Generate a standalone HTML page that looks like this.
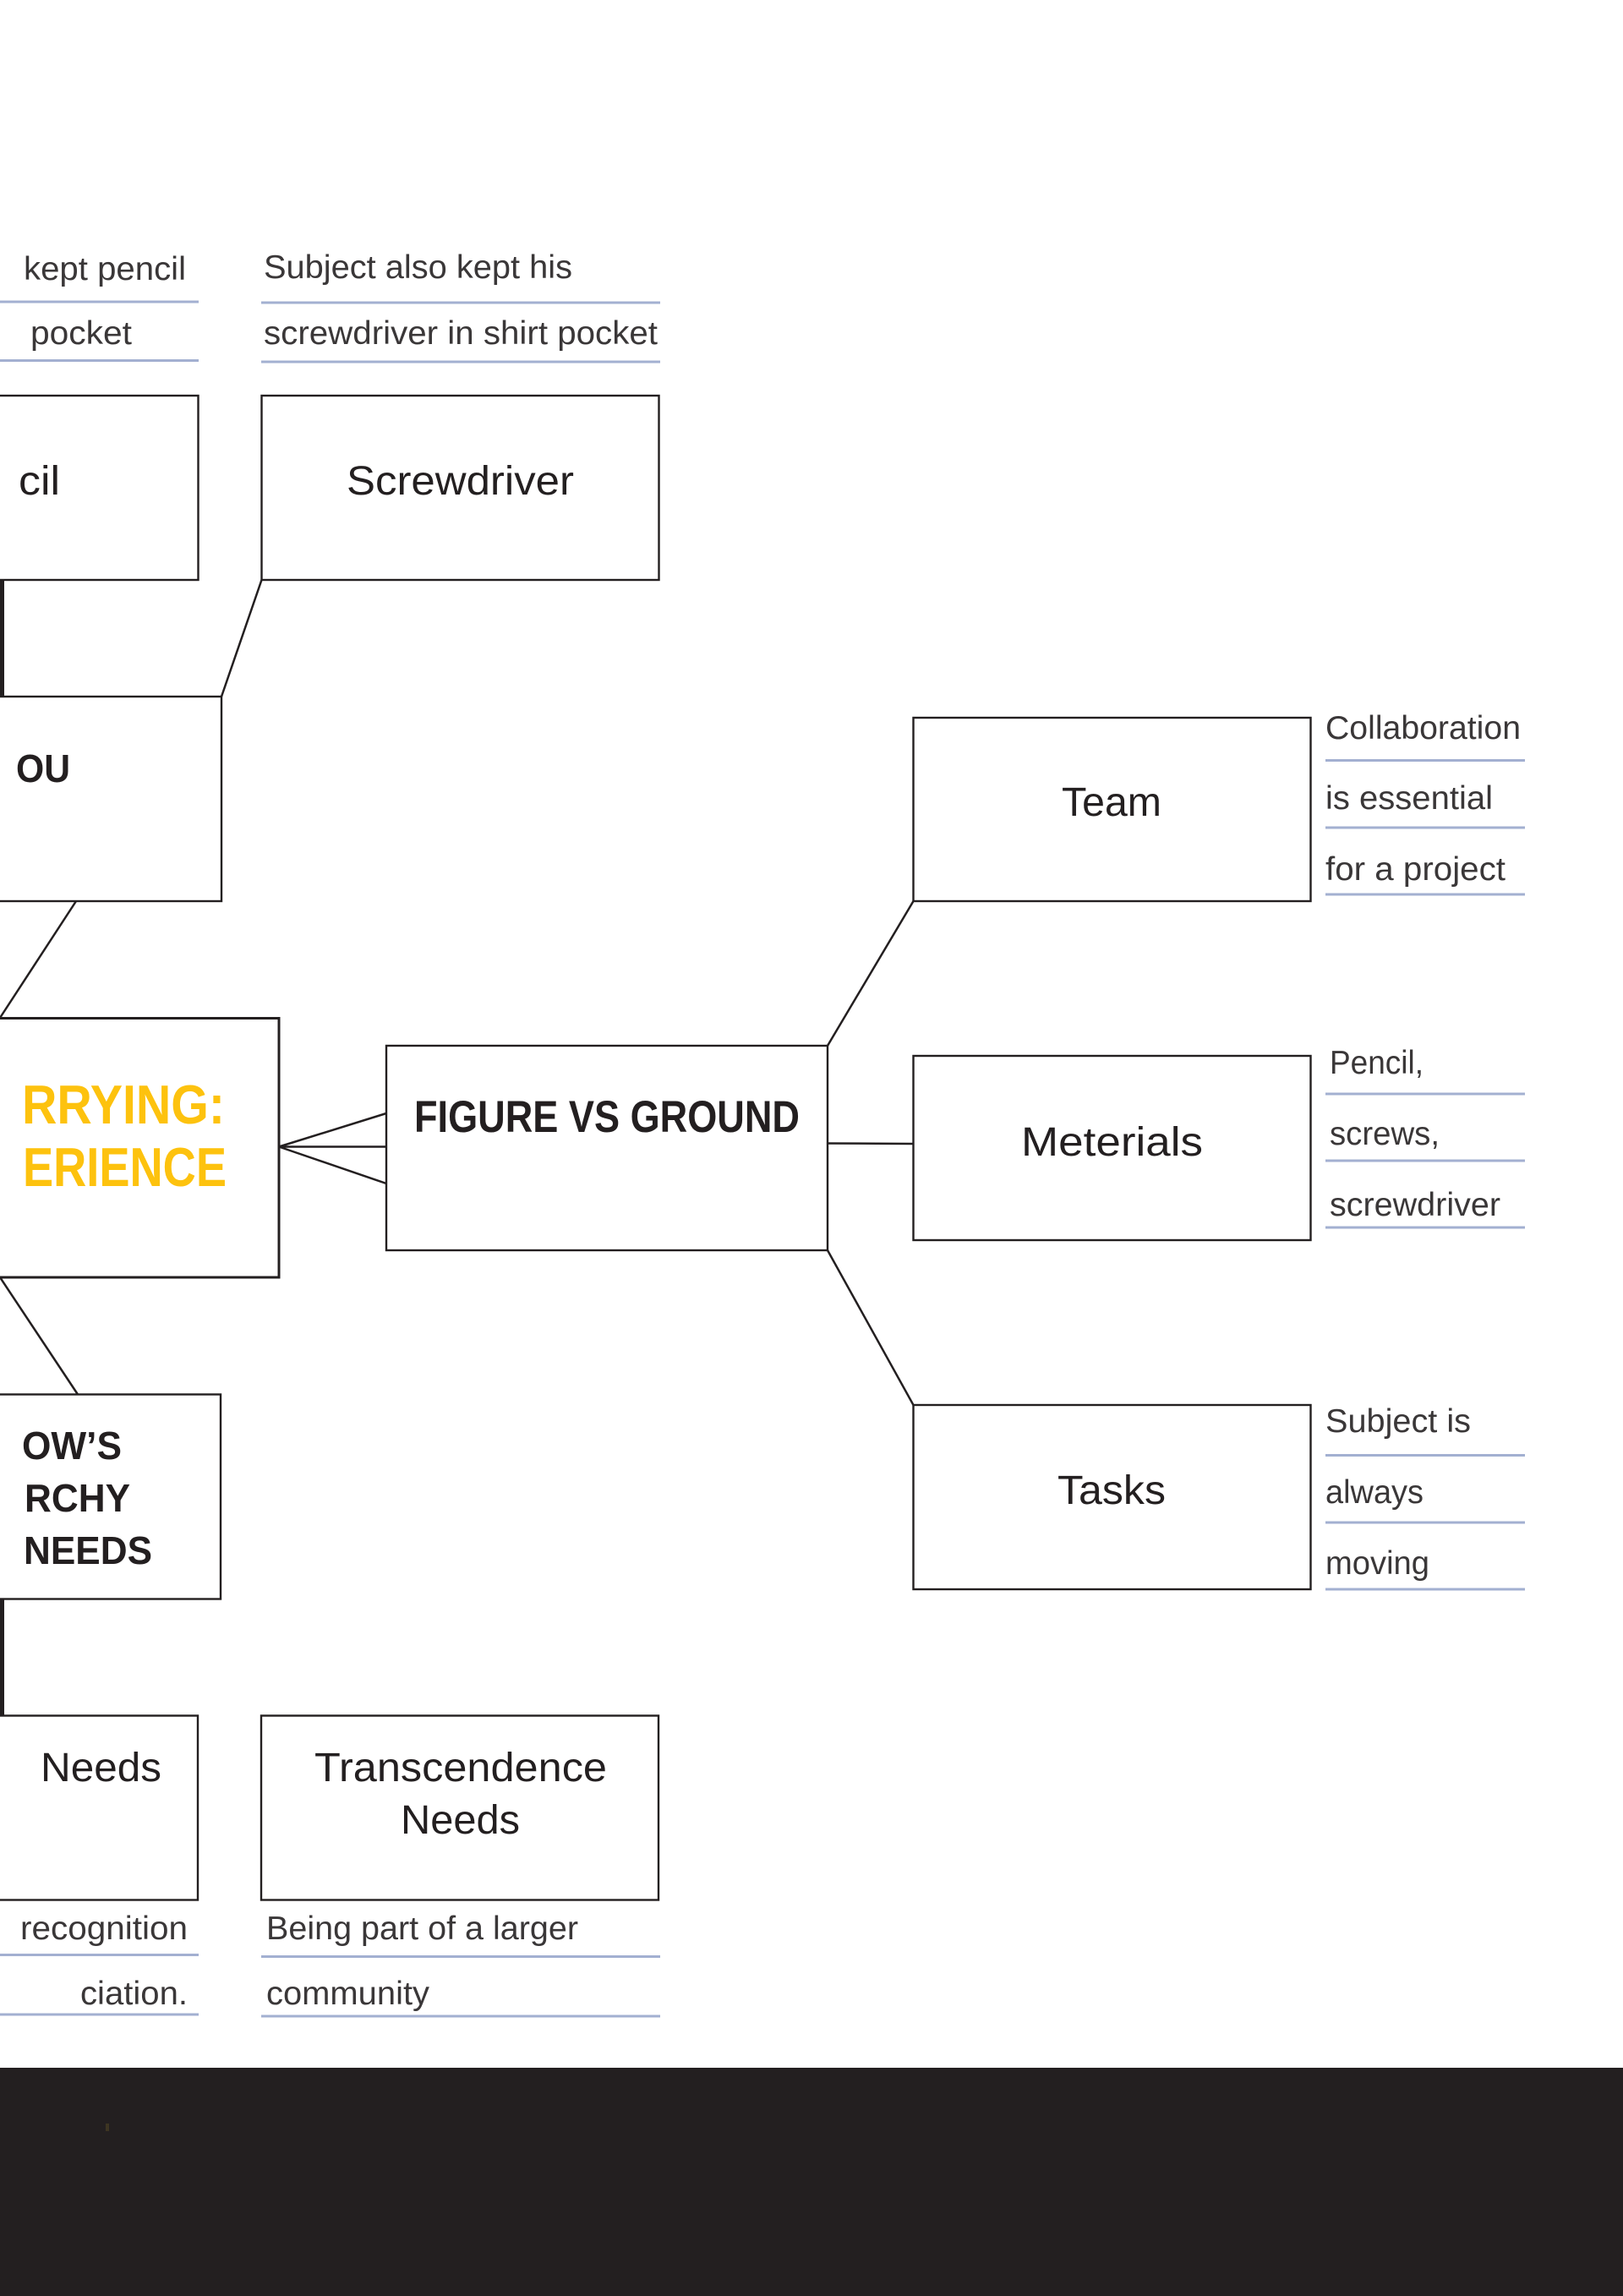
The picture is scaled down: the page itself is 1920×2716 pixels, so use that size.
<!DOCTYPE html>
<html>
<head>
<meta charset="utf-8">
<style>
html,body{margin:0;padding:0;background:#fff;width:1920px;height:2716px;overflow:hidden}
svg{display:block}
text{font-family:"Liberation Sans",sans-serif;fill:#231f20}
.s{font-size:39px;fill:#3a3738}
.m{font-size:48px}
.b{font-size:46px;font-weight:bold}
.box{fill:#fff;stroke:#231f20;stroke-width:2.4}
.c{stroke:#231f20;stroke-width:2.5;fill:none}
.u{stroke:#a3b0d1;stroke-width:3;fill:none}
</style>
</head>
<body>
<svg width="1920" height="2716" viewBox="0 0 1920 2716" xmlns="http://www.w3.org/2000/svg">
<rect width="1920" height="2716" fill="#fff"/>

<!-- connectors -->
<path class="c" d="M309.5 686L262 824"/>
<path class="c" d="M90 1066L0 1204"/>
<path class="c" d="M330 1356.5L457 1317M330 1356.5H457M330 1356.5L457 1400"/>
<path class="c" d="M979 1237L1080.5 1066"/>
<path class="c" d="M979 1352.5L1080.5 1353"/>
<path class="c" d="M979 1479L1080.5 1662"/>
<path class="c" d="M0 1511L92 1649.5"/>
<rect x="0" y="686" width="5" height="138" fill="#231f20"/>
<rect x="0" y="1892" width="5" height="137" fill="#231f20"/>

<!-- boxes -->
<rect class="box" x="-10" y="468" width="244.5" height="218"/>
<rect class="box" x="309.5" y="468" width="470" height="218"/>
<rect class="box" x="-10" y="824" width="272" height="242"/>
<rect class="box" x="-10" y="1204.5" width="340" height="306.5" style="stroke-width:3"/>
<rect class="box" x="457" y="1237" width="522" height="242"/>
<rect class="box" x="1080.5" y="849" width="470" height="217"/>
<rect class="box" x="1080.5" y="1249" width="470" height="218"/>
<rect class="box" x="1080.5" y="1662" width="470" height="218"/>
<rect class="box" x="-10" y="1649.5" width="271" height="242"/>
<rect class="box" x="-10" y="2029.5" width="244" height="218"/>
<rect class="box" x="309" y="2029.5" width="470" height="218"/>

<!-- underlines -->
<path class="u" d="M0 357H235M0 426.5H235"/>
<path class="u" d="M309 358H781M309 428H781"/>
<path class="u" d="M1568 899.5H1804M1568 979H1804M1568 1058H1804"/>
<path class="u" d="M1568 1294H1804M1568 1373H1804M1568 1452H1804"/>
<path class="u" d="M1568 1721.5H1804M1568 1801H1804M1568 1880H1804"/>
<path class="u" d="M0 2312.5H235M0 2383H235"/>
<path class="u" d="M309 2314.5H781M309 2385H781"/>

<!-- top notes -->
<text class="s" x="28" y="331" textLength="192" lengthAdjust="spacingAndGlyphs">kept pencil</text>
<text class="s" x="36" y="407" textLength="120" lengthAdjust="spacingAndGlyphs">pocket</text>
<text class="s" x="312" y="329" textLength="365" lengthAdjust="spacingAndGlyphs">Subject also kept his</text>
<text class="s" x="312" y="407" textLength="466" lengthAdjust="spacingAndGlyphs">screwdriver in shirt pocket</text>

<text class="m" x="22" y="585" textLength="49" lengthAdjust="spacingAndGlyphs">cil</text>
<text class="m" x="410" y="585" textLength="269" lengthAdjust="spacingAndGlyphs">Screwdriver</text>
<text class="b" x="19" y="925" textLength="64" lengthAdjust="spacingAndGlyphs">OU</text>

<!-- central -->
<text x="26" y="1329" textLength="240" lengthAdjust="spacingAndGlyphs" style="font-size:65px;font-weight:bold;fill:#fdc20e">RRYING:</text>
<text x="27" y="1403" textLength="241" lengthAdjust="spacingAndGlyphs" style="font-size:65px;font-weight:bold;fill:#fdc20e">ERIENCE</text>
<text x="490" y="1339" textLength="456" lengthAdjust="spacingAndGlyphs" style="font-size:53px;font-weight:bold">FIGURE VS GROUND</text>

<!-- right -->
<text class="m" x="1256" y="965" textLength="118" lengthAdjust="spacingAndGlyphs">Team</text>
<text class="m" x="1208" y="1367" textLength="215" lengthAdjust="spacingAndGlyphs">Meterials</text>
<text class="m" x="1251" y="1779" textLength="128" lengthAdjust="spacingAndGlyphs">Tasks</text>

<text class="s" x="1568" y="874" textLength="231" lengthAdjust="spacingAndGlyphs">Collaboration</text>
<text class="s" x="1568" y="957" textLength="198" lengthAdjust="spacingAndGlyphs">is essential</text>
<text class="s" x="1568" y="1041" textLength="213" lengthAdjust="spacingAndGlyphs">for a project</text>
<text class="s" x="1573" y="1270" textLength="111" lengthAdjust="spacingAndGlyphs">Pencil,</text>
<text class="s" x="1573" y="1354" textLength="130" lengthAdjust="spacingAndGlyphs">screws,</text>
<text class="s" x="1573" y="1438" textLength="202" lengthAdjust="spacingAndGlyphs">screwdriver</text>
<text class="s" x="1568" y="1694" textLength="172" lengthAdjust="spacingAndGlyphs">Subject is</text>
<text class="s" x="1568" y="1778" textLength="116" lengthAdjust="spacingAndGlyphs">always</text>
<text class="s" x="1568" y="1862" textLength="123" lengthAdjust="spacingAndGlyphs">moving</text>

<!-- lower left -->
<text class="b" x="26" y="1726" textLength="118" lengthAdjust="spacingAndGlyphs">OW’S</text>
<text class="b" x="29" y="1788" textLength="125" lengthAdjust="spacingAndGlyphs">RCHY</text>
<text class="b" x="28" y="1850" textLength="152" lengthAdjust="spacingAndGlyphs">NEEDS</text>

<text class="m" x="48" y="2107" textLength="143" lengthAdjust="spacingAndGlyphs">Needs</text>
<text class="m" x="372" y="2107" textLength="346" lengthAdjust="spacingAndGlyphs">Transcendence</text>
<text class="m" x="474" y="2169" textLength="141" lengthAdjust="spacingAndGlyphs">Needs</text>

<text class="s" x="24" y="2294" textLength="198" lengthAdjust="spacingAndGlyphs">recognition</text>
<text class="s" x="95" y="2371" textLength="127" lengthAdjust="spacingAndGlyphs">ciation.</text>
<text class="s" x="315" y="2294" textLength="369" lengthAdjust="spacingAndGlyphs">Being part of a larger</text>
<text class="s" x="315" y="2371" textLength="193" lengthAdjust="spacingAndGlyphs">community</text>

<!-- footer -->
<rect x="0" y="2446" width="1920" height="270" fill="#231f20"/>
<rect x="125" y="2512" width="4" height="9" fill="#3d3522"/>
</svg>
</body>
</html>
